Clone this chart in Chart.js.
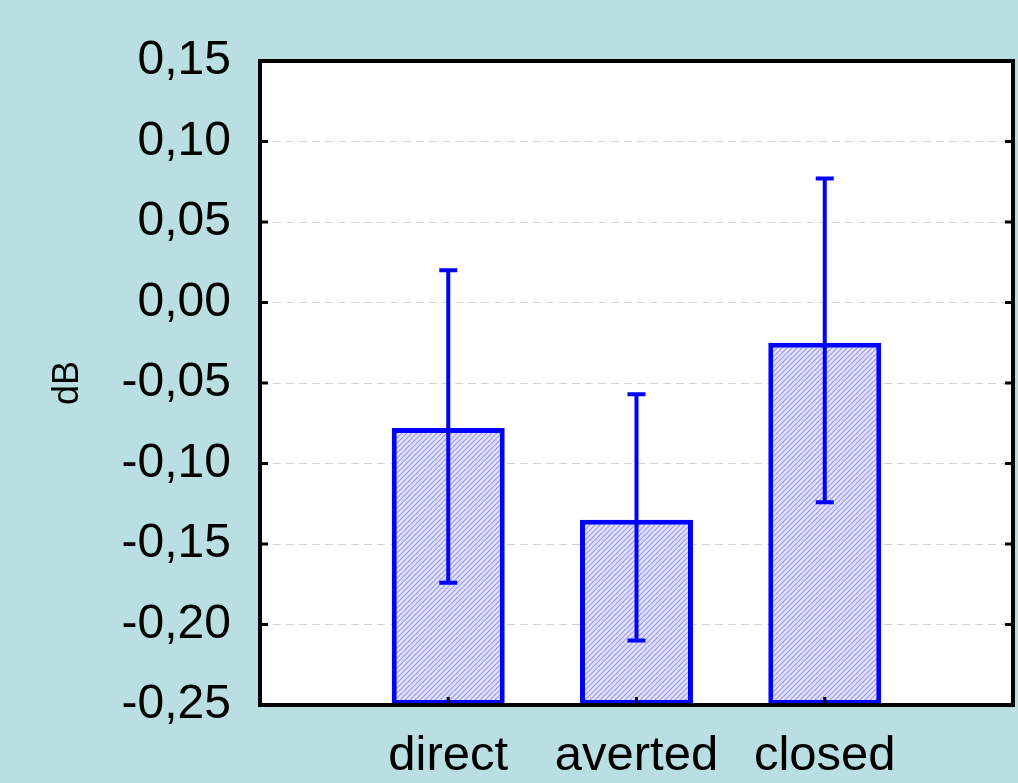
<!DOCTYPE html>
<html>
<head>
<meta charset="utf-8">
<script src="https://cdn.jsdelivr.net/npm/chart.js@4/dist/chart.umd.min.js"></script>
<style>
  html, body { margin: 0; padding: 0; background: #b9dfe3; overflow: hidden; }
  #wrap { width: 1018px; height: 783px; }
</style>
</head>
<body>
<div id="wrap"><canvas id="chart"></canvas></div>
<script>
const categories = ['', 'direct', 'averted', 'closed', ''];
const means = [null, -0.078, -0.135, -0.025, null];
const errHigh = [null, 0.020, -0.057, 0.077, null];
const errLow = [null, -0.174, -0.210, -0.124, null];
const yMin = -0.25, yMax = 0.15, yStep = 0.05;

const FONT = '"Liberation Sans", Arial, sans-serif';

// hatched fill like the original plot
function hatch() {
  const c = document.createElement('canvas');
  c.width = 5; c.height = 5;
  const g = c.getContext('2d');
  g.fillStyle = '#e2e2fc';
  g.fillRect(0, 0, 5, 5);
  g.strokeStyle = '#9a9af4';
  g.lineWidth = 1.2;
  g.beginPath();
  g.moveTo(-1, 6); g.lineTo(6, -1);
  g.moveTo(-1, 1); g.lineTo(1, -1);
  g.moveTo(4, 6); g.lineTo(6, 4);
  g.stroke();
  return g.createPattern(c, 'repeat');
}

const frame = {
  id: 'frame',
  beforeDraw(chart) {
    const { ctx, chartArea: a } = chart;
    ctx.save();
    ctx.fillStyle = '#fff';
    ctx.fillRect(a.left, a.top, a.right - a.left, a.bottom - a.top);
    ctx.restore();
  },
  afterDatasetsDraw(chart) {
    const { ctx, chartArea: a, scales } = chart;
    const y = scales.y, x = scales.x;
    // error bars
    const meta = chart.getDatasetMeta(0);
    ctx.save();
    ctx.strokeStyle = '#0000ff';
    ctx.lineWidth = 4;
    meta.data.forEach((bar, i) => {
      if (errHigh[i] == null) return;
      const px = bar.x;
      const top = y.getPixelForValue(errHigh[i]);
      const bot = y.getPixelForValue(errLow[i]);
      ctx.beginPath();
      ctx.moveTo(px, top); ctx.lineTo(px, bot);
      ctx.moveTo(px - 9, top); ctx.lineTo(px + 9, top);
      ctx.moveTo(px - 9, bot); ctx.lineTo(px + 9, bot);
      ctx.stroke();
    });
    ctx.restore();

    // frame and inner ticks
    ctx.save();
    ctx.strokeStyle = '#000';
    ctx.lineWidth = 4;
    ctx.strokeRect(a.left, a.top, a.right - a.left, a.bottom - a.top);
    ctx.lineWidth = 3;
    ctx.beginPath();
    y.ticks.forEach(t => {
      const py = y.getPixelForValue(t.value);
      ctx.moveTo(a.left, py); ctx.lineTo(a.left + 8, py);
      ctx.moveTo(a.right, py); ctx.lineTo(a.right - 8, py);
    });
    categories.forEach((c, i) => {
      if (!c) return;
      const px = x.getPixelForValue(i);
      ctx.moveTo(px, a.bottom); ctx.lineTo(px, a.bottom - 8);
    });
    ctx.stroke();
    ctx.restore();
  }
};

new Chart(document.getElementById('chart'), {
  type: 'bar',
  data: {
    labels: categories,
    datasets: [{
      data: means.map(v => v == null ? null : [yMin, v]),
      backgroundColor: hatch(),
      borderColor: '#0000ff',
      borderWidth: 5,
      borderSkipped: false,
      barPercentage: 0.6,
      categoryPercentage: 1
    }]
  },
  options: {
    responsive: true,
    maintainAspectRatio: false,
    animation: false,
    layout: { padding: { top: 61, right: 5, left: 0, bottom: 0 } },
    plugins: { legend: { display: false }, tooltip: { enabled: false } },
    scales: {
      x: {
        offset: false,
        grid: { display: false, drawTicks: false },
        border: { display: false },
        ticks: {
          color: '#000',
          padding: 22,
          maxRotation: 0,
          autoSkip: false,
          font: { family: FONT, size: 49 }
        },
        afterFit(s) {
          s.height = 78;
          s.paddingLeft = 0;
          s.paddingRight = 0;
        }
      },
      y: {
        min: yMin,
        max: yMax,
        grid: { color: '#d4d4d4', lineWidth: 1, drawTicks: false },
        border: { display: false, dash: [8, 5] },
        ticks: {
          stepSize: yStep,
          color: '#000',
          padding: 29,
          font: { family: FONT, size: 48 },
          callback: v => v.toFixed(2).replace('.', ',')
        },
        title: {
          display: true,
          text: 'dB',
          color: '#000',
          font: { family: FONT, size: 36 },
          padding: { top: 46, bottom: 0 }
        },
        afterFit(s) {
          s.width = 260;
          s.paddingTop = 0;
          s.paddingBottom = 0;
        }
      }
    }
  },
  plugins: [frame]
});
</script>
</body>
</html>
